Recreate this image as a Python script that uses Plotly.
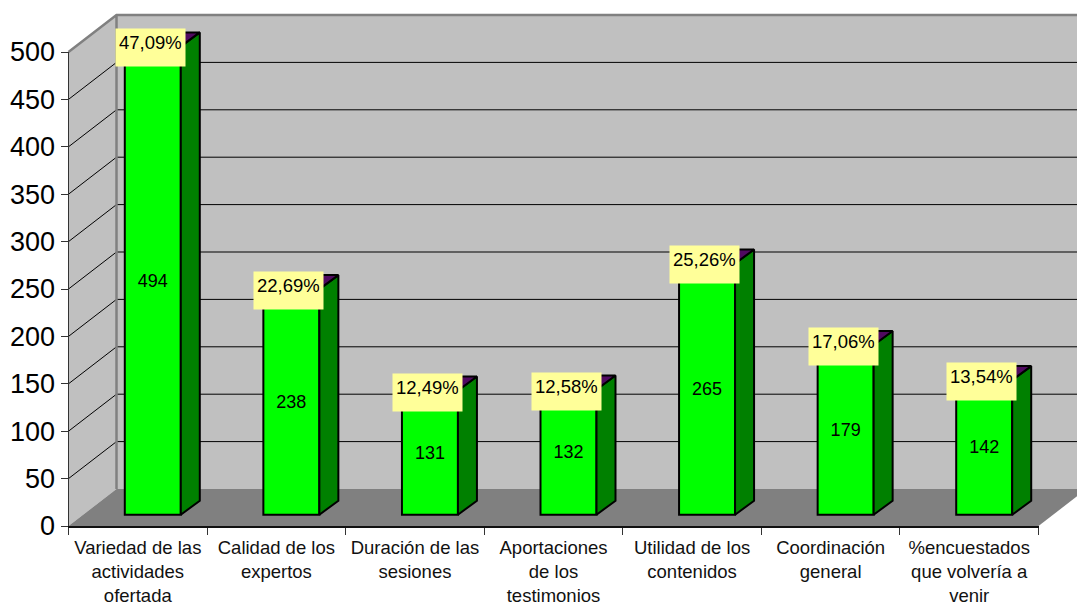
import plotly.graph_objects as go

categories = [
    "Variedad de las<br>actividades<br>ofertada",
    "Calidad de los<br>expertos",
    "Duración de las<br>sesiones",
    "Aportaciones<br>de los<br>testimonios",
    "Utilidad de los<br>contenidos",
    "Coordinación<br>general",
    "%encuestados<br>que volvería a<br>venir",
]
values = [494, 238, 131, 132, 265, 179, 142]
percent_labels = ["47,09%", "22,69%", "12,49%", "12,58%", "25,26%", "17,06%", "13,54%"]
y_ticks = [0, 50, 100, 150, 200, 250, 300, 350, 400, 450, 500]

W, H = 1077, 606
LEFT, RIGHT, BOTTOM, TOP = 68.5, 1038.5, 526.0, 52.0
FONT = "Liberation Sans, Arial, sans-serif"
n = len(categories)
px_x = (RIGHT - LEFT) / n            # pixels per category
px_y = (BOTTOM - TOP) / y_ticks[-1]  # pixels per value unit


def cx(p):  # horizontal pixel distance in category units
    return p / px_x


def vy(p):  # vertical pixel distance in value units
    return p / px_y


x0 = -0.5
x1 = n - 0.5
depth_x, depth_y = cx(48), vy(37)
bar_dx, bar_dy = cx(19), vy(14)
bar_shift, bar_w = cx(15), cx(56)
bar_base = vy(11.3)
ymax = y_ticks[-1]

fig = go.Figure()

shapes = [
    dict(type="path", layer="below", xref="x", yref="y", line=dict(width=0), fillcolor="#C0C0C0",
         path=f"M{x0},0 L{x0},{ymax} L{x0+depth_x},{ymax+depth_y} L{x1+depth_x},{ymax+depth_y} "
              f"L{x1+depth_x},{depth_y} L{x0+depth_x},{depth_y} Z"),
    dict(type="path", layer="below", xref="x", yref="y", line=dict(width=0), fillcolor="#808080",
         path=f"M{x0},0 L{x0+depth_x},{depth_y} L{x1+depth_x},{depth_y} L{x1},0 Z"),
]
for t in y_ticks[1:-1]:
    shapes.append(dict(type="path", layer="below", xref="x", yref="y",
                       line=dict(color="#000000", width=1),
                       path=f"M{x0},{t} L{x0+depth_x},{t+depth_y} L{x1+depth_x},{t+depth_y}"))
shapes.append(dict(type="path", layer="below", xref="x", yref="y",
                   line=dict(color="#808080", width=2.5),
                   path=f"M{x0},{ymax} L{x0+depth_x},{ymax+depth_y} L{x1+depth_x},{ymax+depth_y} "
                        f"M{x0+depth_x},{ymax+depth_y} L{x0+depth_x},{depth_y}"))

bar_x = [i + bar_shift for i in range(n)]
fig.add_trace(go.Bar(
    x=bar_x, y=values, base=bar_base, width=bar_w,
    marker=dict(color="#00FF00", line=dict(color="#000000", width=2)),
    text=[str(v) for v in values], textposition="inside", insidetextanchor="middle",
    textangle=0, constraintext="none",
    textfont=dict(family=FONT, size=18, color="#000000"),
    hoverinfo="y", xaxis="x", yaxis="y",
))

side_x, side_y, top_x, top_y = [], [], [], []
for c, v in zip(bar_x, values):
    l, r, b, t = c - bar_w / 2, c + bar_w / 2, bar_base, bar_base + v
    side_x += [r, r + bar_dx, r + bar_dx, r, r, None]
    side_y += [b, b + bar_dy, t + bar_dy, t, b, None]
    top_x += [l, l + bar_dx, r + bar_dx, r, l, None]
    top_y += [t, t + bar_dy, t + bar_dy, t, t, None]
fig.add_trace(go.Scatter(x=side_x, y=side_y, mode="lines", fill="toself", fillcolor="#008000",
                         line=dict(color="#000000", width=2), hoverinfo="skip",
                         xaxis="x", yaxis="y"))
fig.add_trace(go.Scatter(x=top_x, y=top_y, mode="lines", fill="toself", fillcolor="#500A60",
                         line=dict(color="#000000", width=2), hoverinfo="skip",
                         xaxis="x", yaxis="y"))

# carrier for the visible category / value axes
fig.add_trace(go.Scatter(x=categories, y=values, mode="markers", marker=dict(opacity=0),
                         hoverinfo="skip", xaxis="x2", yaxis="y2"))

annotations = [
    dict(x=c - cx(2.5), y=bar_base + v - vy(1.5), xref="x", yref="y", text=p, showarrow=False,
         xanchor="center", yanchor="middle", valign="top", bgcolor="#FFFF99", borderpad=3, height=31,
         font=dict(family=FONT, size=18.5, color="#000000"))
    for c, v, p in zip(bar_x, values, percent_labels)
]

fig.update_layout(
    width=W, height=H, autosize=False, showlegend=False, barmode="overlay",
    margin=dict(l=0, r=0, t=0, b=0, pad=0),
    paper_bgcolor="#FFFFFF", plot_bgcolor="rgba(0,0,0,0)",
    shapes=shapes, annotations=annotations,
    xaxis=dict(domain=[0, 1], range=[x0 - cx(LEFT), x0 + cx(W - LEFT)], visible=False,
               fixedrange=True, automargin=False),
    yaxis=dict(domain=[0, 1], range=[-vy(H - BOTTOM), vy(BOTTOM)], visible=False,
               fixedrange=True, automargin=False),
    xaxis2=dict(domain=[LEFT / W, RIGHT / W], anchor="y2", type="category", automargin=False,
                categoryorder="array", categoryarray=categories, range=[-0.5, n - 0.5],
                tickson="boundaries", ticks="outside", ticklen=7, tickwidth=1, tickcolor="#333333",
                ticklabelstandoff=4,
                showline=True, linecolor="#111111", linewidth=1.5, showgrid=False, zeroline=False,
                tickangle=0, tickfont=dict(family=FONT, size=18.5, color="#111111"), fixedrange=True),
    yaxis2=dict(domain=[1 - BOTTOM / H, 1 - TOP / H], anchor="x2", range=[0, ymax], automargin=False,
                tickvals=y_ticks, ticks="outside", ticklen=7, tickwidth=1, tickcolor="#333333",
                showline=True, linecolor="#333333", linewidth=1, showgrid=False, zeroline=False,
                tickfont=dict(family=FONT, size=27, color="#000000"), fixedrange=True),
)

fig.write_html("out.html", config={"displayModeBar": False},
               post_script="document.body.style.margin='0';")
